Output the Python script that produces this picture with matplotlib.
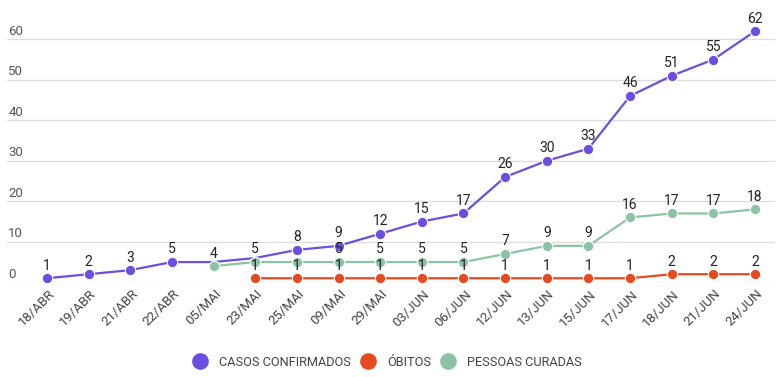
import numpy as np
import matplotlib.pyplot as plt
import matplotlib.transforms as mtransforms

plt.rcParams['font.family'] = ['Roboto', 'DejaVu Sans']

datas = ["18/ABR", "19/ABR", "21/ABR", "22/ABR", "05/MAI", "23/MAI", "25/MAI", "09/MAI",
         "29/MAI", "03/JUN", "06/JUN", "12/JUN", "13/JUN", "15/JUN", "17/JUN", "18/JUN",
         "21/JUN", "24/JUN"]
casos = [1, 2, 3, 5, 5, 6, 8, 9, 12, 15, 17, 26, 30, 33, 46, 51, 55, 62]
obitos = [None, None, None, None, None, 1, 1, 1, 1, 1, 1, 1, 1, 1, 1, 2, 2, 2]
curadas = [None, None, None, None, 4, 5, 5, 5, 5, 5, 5, 7, 9, 9, 16, 17, 17, 18]

# points/labels the original chart hides because they overlap
hide_casos = [4, 5]
hide_curadas = [6]

cor_casos = '#6c4fe0'
cor_obitos = '#e64a1e'
cor_curadas = '#8cc4a3'

fig = plt.figure(figsize=(7.82, 3.77), dpi=100)
ax = fig.add_axes([7/782, 1 - 282.3/377, 768/782, 282.3/377])


def serie(vals, cor, nome, hide, hide_marker=()):
    xs = [i for i, v in enumerate(vals) if v is not None]
    ys = [v for v in vals if v is not None]
    marcas = [k for k, i in enumerate(xs) if i not in hide_marker]
    ax.plot(xs, ys, '-o', color=cor, lw=1.6, ms=7.5, mec='white', mew=0.8,
            markevery=marcas, label=nome, zorder=3, clip_on=False)
    for i, v in zip(xs, ys):
        if i in hide:
            continue
        ax.annotate(str(v), (i, v), xytext=(0, 4), textcoords='offset points',
                    ha='center', va='bottom', fontsize=10, color='#222222', zorder=5)


serie(casos, cor_casos, 'CASOS CONFIRMADOS', hide_casos, hide_casos)
serie(curadas, cor_curadas, 'PESSOAS CURADAS', hide_curadas)
serie(obitos, cor_obitos, 'ÓBITOS', [])

ax.set_xlim(-0.96, 17.48)
ax.set_ylim(0, 69.7)
for s in ax.spines.values():
    s.set_visible(False)
ax.set_xticks([])
ax.set_yticks([])

trans_y = mtransforms.blended_transform_factory(ax.transAxes, ax.transData)
for t in range(0, 70, 10):
    ax.axhline(t, color='#dddddd', lw=1, zorder=1)
    ax.annotate(str(t), (0, t), xycoords=trans_y, xytext=(1, 1), textcoords='offset points',
                ha='left', va='bottom', fontsize=9.5, color='#555555')

for i, d in enumerate(datas):
    ax.annotate(d, (i, 0), xytext=(4, -7), textcoords='offset points',
                ha='right', va='center', rotation=45, rotation_mode='anchor',
                fontsize=9.5, color='#444444', annotation_clip=False)

h, l = ax.get_legend_handles_labels()
ordem = [0, 2, 1]
leg = fig.legend([h[k] for k in ordem], [l[k] for k in ordem], loc='center',
                 bbox_to_anchor=(0.5, 1 - 362/377), ncol=3, frameon=False,
                 fontsize=9.2, handlelength=0, handletextpad=1.5, columnspacing=1.3,
                 markerscale=1.6, labelcolor='#444444')
for lh in leg.legend_handles:
    lh.set_markeredgewidth(0)

fig.savefig('out.png', dpi=100)
